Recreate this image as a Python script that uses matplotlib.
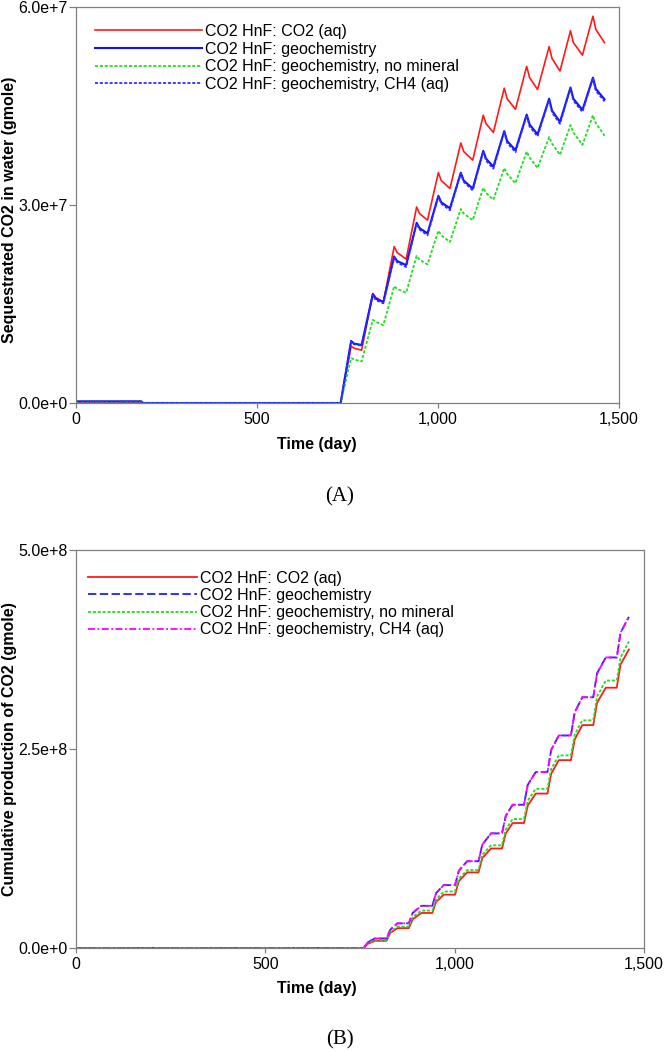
import matplotlib
matplotlib.use("Agg")
import matplotlib.pyplot as plt

plt.rcParams['font.family'] = ['Liberation Sans', 'DejaVu Sans']
plt.rcParams['lines.scale_dashes'] = False

# ---------------- Panel A data ----------------
days_a = [0, 180, 185, 731, 760, 768, 789, 820, 828, 849, 879, 887, 912, 941, 949, 971,
          1001, 1009, 1033, 1063, 1071, 1096, 1125, 1133, 1153, 1183, 1191, 1214,
          1245, 1253, 1275, 1307, 1315, 1337, 1366, 1374, 1399, 1428, 1436, 1460]
co2_aq_a = [1.5e5, 1.5e5, 0, 0, 8.6e6, 8.3e6, 8.0e6, 1.66e7, 1.60e7, 1.53e7,
            2.37e7, 2.28e7, 2.18e7, 2.97e7, 2.87e7, 2.77e7, 3.49e7, 3.37e7, 3.25e7,
            3.94e7, 3.81e7, 3.68e7, 4.36e7, 4.23e7, 4.10e7, 4.77e7, 4.61e7, 4.45e7,
            5.10e7, 4.93e7, 4.75e7, 5.40e7, 5.22e7, 5.03e7, 5.64e7, 5.46e7, 5.27e7,
            5.86e7, 5.66e7, 5.46e7]
geochem_a = [2.5e5, 2.5e5, 0, 0, 9.4e6, 9.0e6, 8.8e6, 1.65e7, 1.58e7, 1.53e7,
             2.22e7, 2.15e7, 2.09e7, 2.73e7, 2.65e7, 2.57e7, 3.14e7, 3.04e7, 2.95e7,
             3.49e7, 3.37e7, 3.25e7, 3.82e7, 3.70e7, 3.58e7, 4.12e7, 3.97e7, 3.83e7,
             4.37e7, 4.22e7, 4.07e7, 4.61e7, 4.43e7, 4.26e7, 4.78e7, 4.61e7, 4.44e7,
             4.93e7, 4.76e7, 4.60e7]
nomin_a = [2.0e5, 2.0e5, 0, 0, 6.8e6, 6.6e6, 6.3e6, 1.26e7, 1.23e7, 1.18e7,
           1.77e7, 1.73e7, 1.67e7, 2.23e7, 2.17e7, 2.10e7, 2.61e7, 2.54e7, 2.44e7,
           2.94e7, 2.87e7, 2.77e7, 3.26e7, 3.18e7, 3.08e7, 3.56e7, 3.47e7, 3.33e7,
           3.81e7, 3.72e7, 3.56e7, 4.03e7, 3.93e7, 3.76e7, 4.21e7, 4.10e7, 3.91e7,
           4.36e7, 4.24e7, 4.05e7]
ch4_a = [2.4e5, 2.4e5, 0, 0, 9.3e6, 8.9e6, 8.7e6, 1.64e7, 1.56e7, 1.51e7,
         2.21e7, 2.13e7, 2.06e7, 2.72e7, 2.63e7, 2.54e7, 3.13e7, 3.02e7, 2.92e7,
         3.48e7, 3.35e7, 3.22e7, 3.81e7, 3.67e7, 3.55e7, 4.11e7, 3.94e7, 3.80e7,
         4.36e7, 4.19e7, 4.04e7, 4.60e7, 4.40e7, 4.23e7, 4.77e7, 4.58e7, 4.41e7,
         4.92e7, 4.73e7, 4.57e7]

# ---------------- Panel B data ----------------
days_b = [0, 760, 770, 789, 820, 830, 849, 879, 889, 912, 941, 951, 971, 1001, 1011, 1033,
          1063, 1073, 1096, 1125, 1135, 1153, 1183, 1193, 1214, 1245, 1255, 1275,
          1307, 1317, 1337, 1366, 1376, 1399, 1428, 1438, 1460]
co2_aq_b = [0, 0, 0.05e8, 0.09e8, 0.09e8, 0.19e8, 0.25e8, 0.25e8, 0.36e8, 0.44e8,
            0.44e8, 0.58e8, 0.67e8, 0.67e8, 0.84e8, 0.95e8, 0.95e8, 1.13e8, 1.25e8,
            1.25e8, 1.44e8, 1.57e8, 1.57e8, 1.79e8, 1.94e8, 1.94e8, 2.19e8, 2.36e8,
            2.36e8, 2.62e8, 2.80e8, 2.80e8, 3.08e8, 3.27e8, 3.27e8, 3.56e8, 3.75e8]
geochem_b = [0, 0, 0.07e8, 0.12e8, 0.12e8, 0.23e8, 0.31e8, 0.31e8, 0.44e8, 0.53e8,
             0.53e8, 0.69e8, 0.79e8, 0.79e8, 0.97e8, 1.09e8, 1.09e8, 1.30e8, 1.44e8,
             1.44e8, 1.66e8, 1.80e8, 1.80e8, 2.05e8, 2.21e8, 2.21e8, 2.49e8, 2.67e8,
             2.67e8, 2.96e8, 3.15e8, 3.15e8, 3.45e8, 3.65e8, 3.65e8, 3.96e8, 4.16e8]
nomin_b = [0, 0, 0.06e8, 0.10e8, 0.10e8, 0.20e8, 0.27e8, 0.27e8, 0.39e8, 0.47e8,
           0.47e8, 0.61e8, 0.71e8, 0.71e8, 0.87e8, 0.98e8, 0.98e8, 1.17e8, 1.29e8,
           1.29e8, 1.49e8, 1.62e8, 1.62e8, 1.85e8, 2.00e8, 2.00e8, 2.25e8, 2.42e8,
           2.42e8, 2.68e8, 2.86e8, 2.86e8, 3.16e8, 3.36e8, 3.36e8, 3.65e8, 3.85e8]
ch4_b = [0, 0, 0.07e8, 0.12e8, 0.12e8, 0.23e8, 0.31e8, 0.31e8, 0.44e8, 0.53e8,
         0.53e8, 0.69e8, 0.79e8, 0.79e8, 0.97e8, 1.09e8, 1.09e8, 1.30e8, 1.44e8,
         1.44e8, 1.66e8, 1.80e8, 1.80e8, 2.05e8, 2.21e8, 2.21e8, 2.49e8, 2.67e8,
         2.67e8, 2.96e8, 3.15e8, 3.15e8, 3.45e8, 3.65e8, 3.65e8, 3.96e8, 4.16e8]

labels = ["CO2 HnF: CO2 (aq)", "CO2 HnF: geochemistry",
          "CO2 HnF: geochemistry, no mineral", "CO2 HnF: geochemistry, CH4 (aq)"]
xticks = [0, 500, 1000, 1500]
xticklabels = ["0", "500", "1,000", "1,500"]
yticks_a = [0, 3e7, 6e7]
yticklabels_a = ["0.0e+0", "3.0e+7", "6.0e+7"]
yticks_b = [0, 2.5e8, 5e8]
yticklabels_b = ["0.0e+0", "2.5e+8", "5.0e+8"]

W, H = 664, 1052
fig = plt.figure(figsize=(W / 100, H / 100), dpi=100)
FS = 11.5
GRAY = '#808080'


def make_ax(l, t, r, b):
    return fig.add_axes([l / W, 1 - b / H, (r - l) / W, (b - t) / H])


def style(ax, yticks, yticklabels):
    ax.set_xlim(0, 1500)
    ax.set_ylim(yticks[0], yticks[-1])
    ax.set_xticks(xticks)
    ax.set_xticklabels(xticklabels)
    ax.set_yticks(yticks)
    ax.set_yticklabels(yticklabels)
    for s in ax.spines.values():
        s.set_color(GRAY)
        s.set_linewidth(0.9)
    ax.tick_params(axis='x', direction='out', length=3.5, width=0.9, color=GRAY,
                   labelsize=FS, pad=3)
    ax.tick_params(axis='y', direction='out', length=5, width=0.9, color=GRAY,
                   labelsize=FS, pad=1)


# ---------------- Panel A ----------------
axA = make_ax(76, 7, 619, 403)
axA.plot(days_a, co2_aq_a, color='#ff1a1a', lw=1.2, label=labels[0])
axA.plot(days_a, geochem_a, color='#1010ff', lw=1.5, label=labels[1])
axA.plot(days_a, nomin_a, color='#22dd22', lw=1.3, dashes=(2.2, 1.3), label=labels[2])
axA.plot(days_a, ch4_a, color='#3030ff', lw=1.3, dashes=(2.2, 1.3), label=labels[3])
style(axA, yticks_a, yticklabels_a)
axA.legend(loc='upper left', bbox_to_anchor=(0.035, 0.957), frameon=False, fontsize=FS,
           handlelength=6.7, handletextpad=0.2, labelspacing=0.16, borderpad=0,
           borderaxespad=0)

# ---------------- Panel B ----------------
axB = make_ax(76, 550, 644, 948)
axB.plot(days_b, co2_aq_b, color='#ff1a1a', lw=1.3, label=labels[0])
axB.plot(days_b, geochem_b, color='#2020ff', lw=1.3, dashes=(6, 2.5), label=labels[1])
axB.plot(days_b, nomin_b, color='#22dd22', lw=1.3, dashes=(2.2, 1.3), label=labels[2])
axB.plot(days_b, ch4_b, color='#ff00ff', lw=1.3, dashes=(5, 1.8, 1.3, 1.8), label=labels[3])
style(axB, yticks_b, yticklabels_b)
axB.legend(loc='upper left', bbox_to_anchor=(0.021, 0.948), frameon=False, fontsize=FS,
           handlelength=6.8, handletextpad=0.2, labelspacing=0.14, borderpad=0,
           borderaxespad=0)

# ---------------- Labels ----------------
fig.text(317 / W, 1 - 445 / H, "Time (day)", ha='center', va='center',
         fontsize=FS, fontweight='bold')
fig.text(317 / W, 1 - 988 / H, "Time (day)", ha='center', va='center',
         fontsize=FS, fontweight='bold')
fig.text(10 / W, 1 - 210 / H, "Sequestrated CO2 in water (gmole)", rotation=90,
         ha='center', va='center', fontsize=FS, fontweight='bold')
fig.text(10 / W, 1 - 749 / H, "Cumulative production of CO2 (gmole)", rotation=90,
         ha='center', va='center', fontsize=FS, fontweight='bold')
fig.text(340 / W, 1 - 497 / H, "(A)", ha='center', va='center', fontsize=15,
         family=['Liberation Serif', 'DejaVu Serif'])
fig.text(340 / W, 1 - 1040 / H, "(B)", ha='center', va='center', fontsize=15,
         family=['Liberation Serif', 'DejaVu Serif'])

fig.savefig("out.png", dpi=100)
